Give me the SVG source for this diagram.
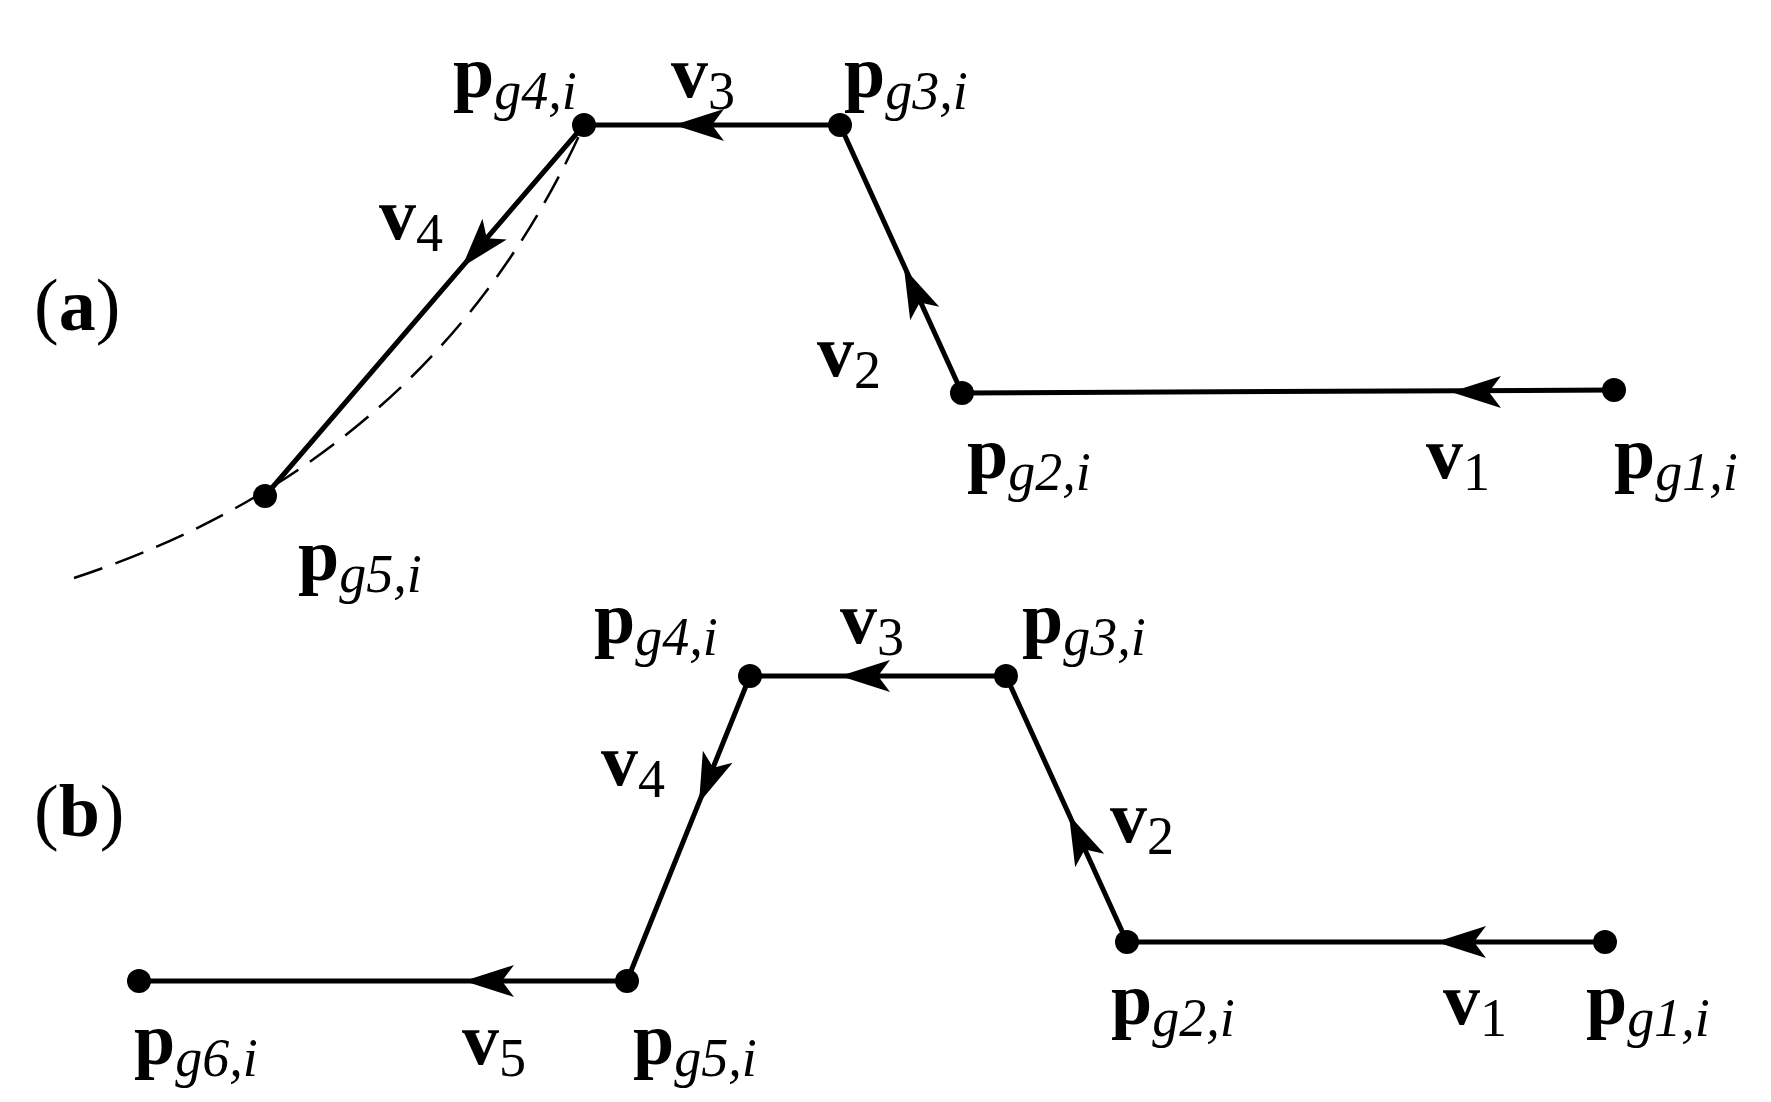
<svg xmlns="http://www.w3.org/2000/svg" xmlns:xlink="http://www.w3.org/1999/xlink" width="1771" height="1102" viewBox="0 0 1771 1102">
<style>
.ln{stroke:#000;stroke-width:5;fill:none}
.ds{stroke:#000;stroke-width:2.5;fill:none;stroke-dasharray:30 14}
.t{font-family:"Liberation Serif",serif;font-size:74px;fill:#000}
.b{font-weight:bold}
.s{font-size:54px;font-style:italic}
.n{font-size:54px}
</style>
<defs>
<path id="ah" d="M0,0 L-50,-16 L-38,0 L-50,16 Z" fill="#000"/>
<circle id="dot" r="12" fill="#000"/>
</defs>
<rect width="1771" height="1102" fill="#fff"/>
<g id="connectors">
<path class="ds" d="M74,578 C250,520 460,400 584,125"/>
<polyline class="ln" points="1614,390 962,393 840,125 584,125 265,496"/>
<polyline class="ln" points="1605,942 1127,942 1006,676 750,676 627,981 139,981"/>
<use href="#ah" transform="translate(1451,392) rotate(180)"/>
<use href="#ah" transform="translate(904,268) rotate(-114.5)"/>
<use href="#ah" transform="translate(674,125) rotate(180)"/>
<use href="#ah" transform="translate(462,267) rotate(130.7)"/>
<use href="#ah" transform="translate(1436,942) rotate(180)"/>
<use href="#ah" transform="translate(1069,815) rotate(-114.5)"/>
<use href="#ah" transform="translate(840,676) rotate(180)"/>
<use href="#ah" transform="translate(699,803) rotate(112)"/>
<use href="#ah" transform="translate(464,981) rotate(180)"/>
</g>
<g id="a-nodes">
<g id="a-g1"><use href="#dot" x="1614" y="390"/><text class="t" x="1614" y="478"><tspan class="b">p</tspan><tspan class="s" dy="12">g1,i</tspan></text></g>
<g id="a-g2"><use href="#dot" x="962" y="393"/><text class="t" x="967" y="478"><tspan class="b">p</tspan><tspan class="s" dy="12">g2,i</tspan></text></g>
<g id="a-g3"><use href="#dot" x="840" y="125"/><text class="t" x="844" y="97"><tspan class="b">p</tspan><tspan class="s" dy="12">g3,i</tspan></text></g>
<g id="a-g4"><use href="#dot" x="584" y="125"/><text class="t" x="453" y="97"><tspan class="b">p</tspan><tspan class="s" dy="12">g4,i</tspan></text></g>
<g id="a-g5"><use href="#dot" x="265" y="496"/><text class="t" x="298" y="580"><tspan class="b">p</tspan><tspan class="s" dy="12">g5,i</tspan></text></g>
<text class="t" x="1426" y="478"><tspan class="b">v</tspan><tspan class="n" dy="12">1</tspan></text>
<text class="t" x="817" y="376"><tspan class="b">v</tspan><tspan class="n" dy="12">2</tspan></text>
<text class="t" x="671" y="97"><tspan class="b">v</tspan><tspan class="n" dy="12">3</tspan></text>
<text class="t" x="379" y="239"><tspan class="b">v</tspan><tspan class="n" dy="12">4</tspan></text>
<text class="t" x="34" y="330">(<tspan class="b">a</tspan>)</text>
</g>
<g id="b-nodes">
<g id="b-g1"><use href="#dot" x="1605" y="942"/><text class="t" x="1586" y="1024"><tspan class="b">p</tspan><tspan class="s" dy="12">g1,i</tspan></text></g>
<g id="b-g2"><use href="#dot" x="1127" y="942"/><text class="t" x="1111" y="1024"><tspan class="b">p</tspan><tspan class="s" dy="12">g2,i</tspan></text></g>
<g id="b-g3"><use href="#dot" x="1006" y="676"/><text class="t" x="1022" y="643"><tspan class="b">p</tspan><tspan class="s" dy="12">g3,i</tspan></text></g>
<g id="b-g4"><use href="#dot" x="750" y="676"/><text class="t" x="594" y="643"><tspan class="b">p</tspan><tspan class="s" dy="12">g4,i</tspan></text></g>
<g id="b-g5"><use href="#dot" x="627" y="981"/><text class="t" x="633" y="1064"><tspan class="b">p</tspan><tspan class="s" dy="12">g5,i</tspan></text></g>
<g id="b-g6"><use href="#dot" x="139" y="981"/><text class="t" x="134" y="1064"><tspan class="b">p</tspan><tspan class="s" dy="12">g6,i</tspan></text></g>
<text class="t" x="1443" y="1024"><tspan class="b">v</tspan><tspan class="n" dy="12">1</tspan></text>
<text class="t" x="1110" y="842"><tspan class="b">v</tspan><tspan class="n" dy="12">2</tspan></text>
<text class="t" x="840" y="643"><tspan class="b">v</tspan><tspan class="n" dy="12">3</tspan></text>
<text class="t" x="601" y="785"><tspan class="b">v</tspan><tspan class="n" dy="12">4</tspan></text>
<text class="t" x="462" y="1064"><tspan class="b">v</tspan><tspan class="n" dy="12">5</tspan></text>
<text class="t" x="34" y="836">(<tspan class="b">b</tspan>)</text>
</g>
</svg>
